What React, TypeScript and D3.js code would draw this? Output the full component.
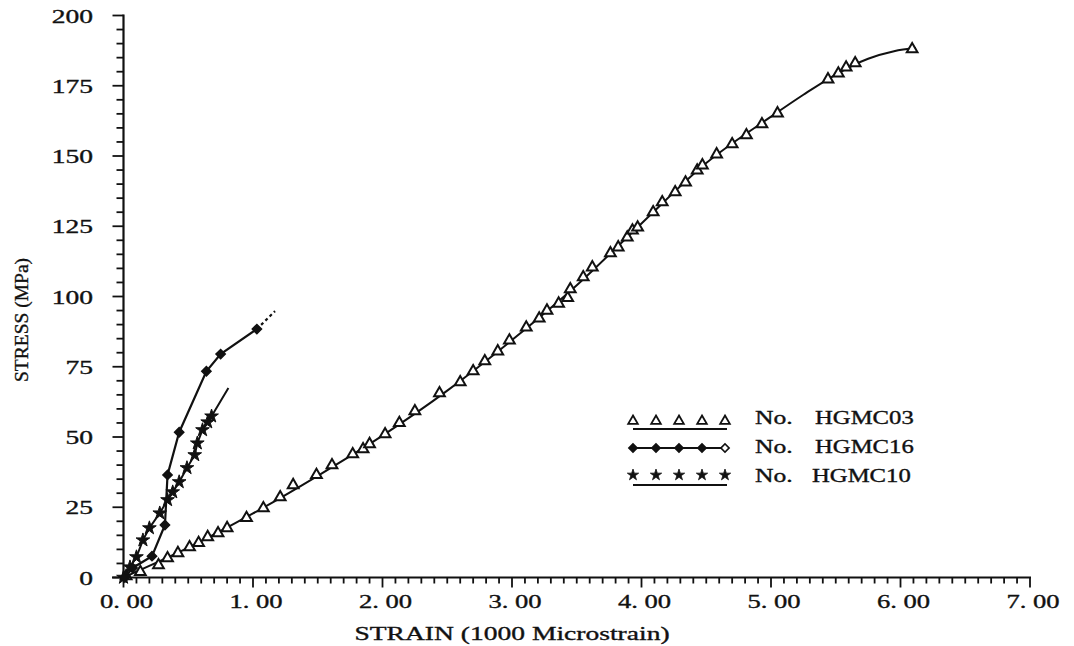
import React from "react";
import * as d3 from "d3";

// ---- data (strain in 1000 microstrain, stress in MPa) ----
const hgmc03: [number, number][] = [
  [0.02, 0.5], [0.13, 2.0], [0.27, 4.4], [0.34, 6.9], [0.42, 8.7], [0.51, 10.8],
  [0.58, 12.3], [0.65, 14.4], [0.73, 15.8], [0.8, 17.6], [0.95, 21.2], [1.08, 24.7],
  [1.21, 28.6], [1.31, 32.9], [1.49, 36.5], [1.61, 40.0], [1.77, 43.9], [1.85, 45.7],
  [1.9, 47.5], [2.02, 51.0], [2.13, 55.0], [2.25, 59.2], [2.44, 65.6], [2.6, 69.5],
  [2.7, 73.4], [2.79, 77.0], [2.89, 80.5], [2.98, 84.4], [3.11, 89.0], [3.21, 92.2],
  [3.27, 95.0], [3.36, 97.5], [3.43, 99.5], [3.45, 102.6], [3.55, 106.9], [3.62, 110.4],
  [3.76, 115.4], [3.82, 117.5], [3.89, 121.0], [3.93, 123.5], [3.97, 124.6], [4.09, 130.0],
  [4.16, 133.6], [4.26, 137.1], [4.34, 140.6], [4.43, 144.9], [4.47, 146.7], [4.58, 150.6],
  [4.7, 154.2], [4.81, 157.4], [4.93, 161.3], [5.05, 165.2], [5.44, 177.3], [5.52, 179.4],
  [5.58, 181.5], [5.65, 183.0], [6.09, 188.0],
];
// fitted trace of HGMC03 (line only)
const hgmc03Trace: [number, number][] = [
  [0.0, 0.0], [0.5, 10.6], [1.0, 22.8], [1.5, 36.2], [2.0, 50.5], [2.5, 66.5],
  [3.0, 84.5], [3.5, 104.0], [4.0, 126.0], [4.5, 147.5], [5.0, 164.0], [5.25, 171.8],
  [5.5, 179.0], [5.75, 184.6], [5.95, 187.3], [6.12, 188.4],
];

const hgmc16: [number, number][] = [
  [0.01, 0.0], [0.07, 3.4], [0.22, 7.6], [0.32, 18.7], [0.34, 36.5], [0.43, 51.7],
  [0.64, 73.4], [0.75, 79.5], [1.03, 88.4],
];
const hgmc16End: [number, number] = [1.17, 94.8];

const hgmc10: [number, number][] = [
  [0.0, 0.0], [0.05, 3.7], [0.1, 7.3], [0.15, 13.3], [0.2, 17.6], [0.28, 22.9],
  [0.34, 27.6], [0.38, 30.4], [0.43, 34.0], [0.49, 39.0], [0.55, 43.6], [0.57, 47.8],
  [0.61, 52.5], [0.65, 55.3], [0.68, 57.4],
];
const hgmc10End: [number, number] = [0.81, 67.4];

const xTicks = [0, 1, 2, 3, 4, 5, 6, 7];
const xTickLabels = ["0. 00", "1. 00", "2. 00", "3. 00", "4. 00", "5. 00", "6. 00", "7. 00"];
const yTicks = [0, 25, 50, 75, 100, 125, 150, 175, 200];
const yTickLabels = ["0", "25", "50", "75", "100", "125", "150", "175", "200"];
const legendLabels = ["HGMC03", "HGMC16", "HGMC10"];

const FONT = "'Liberation Serif', 'Times New Roman', serif";

function SText({ x, y, sx = 1.4, anchor = "start", size = 19, children }: any) {
  return (
    <text
      transform={`translate(${x},${y}) scale(${sx},1)`}
      textAnchor={anchor}
      fontFamily={FONT}
      fontSize={size}
      fill="#111"
      stroke="#111"
      strokeWidth={0.35}
    >
      {children}
    </text>
  );
}

export default function App() {
  const W = 1074, H = 646;
  const x = d3.scaleLinear().domain([0, 7]).range([123.5, 1030]);
  const y = d3.scaleLinear().domain([0, 200]).range([577.5, 15.5]);

  const smooth = d3.line<[number, number]>().x(d => x(d[0])).y(d => y(d[1])).curve(d3.curveMonotoneX);
  const straight = d3.line<[number, number]>().x(d => x(d[0])).y(d => y(d[1]));

  const tri = d3.symbol(d3.symbolTriangle, 50)()!;
  const dia = d3.symbol(d3.symbolSquare, 44)()!;
  const star = d3.symbol(d3.symbolStar, 58)()!;

  const xMinor = d3.range(0, 70.5, 1).map(v => v / 10);
  const yMinor = d3.range(0, 201, 5);

  const legendY = [421, 448, 475];
  const legendX = d3.range(5).map(i => 633 + i * 23);

  return (
    <svg width={W} height={H} style={{ position: "absolute", left: 0, top: 0, background: "#fff" }}>
      <rect width={W} height={H} fill="#fff" />
      {/* axes */}
      <line x1={x(0)} x2={x(0)} y1={y(200) - 1} y2={y(0)} stroke="#111" strokeWidth={2.2} />
      <line x1={112} x2={x(7) + 1} y1={y(0)} y2={y(0)} stroke="#111" strokeWidth={2.2} />
      {yMinor.map(v => (
        <line key={"ym" + v} x1={x(0) - (v % 25 === 0 ? 11 : 7)} x2={x(0)} y1={y(v)} y2={y(v)} stroke="#111" strokeWidth={1.8} />
      ))}
      {xMinor.map(v => (
        <line key={"xm" + v} x1={x(v)} x2={x(v)} y1={y(0)} y2={y(0) + (Math.abs(v - Math.round(v)) < 1e-6 ? 10 : 6)} stroke="#111" strokeWidth={1.8} />
      ))}
      {xTicks.map((v, i) => (
        <SText key={"xl" + v} x={x(v) + 3} y={608} anchor="middle" sx={1.4}>{xTickLabels[i]}</SText>
      ))}
      {yTicks.map((v, i) => (
        <SText key={"yl" + v} x={93} y={y(v) + 7} anchor="end" sx={1.45}>{yTickLabels[i]}</SText>
      ))}
      <SText x={512} y={640} anchor="middle" sx={1.45} size={19}>STRAIN (1000 Microstrain)</SText>
      <text transform="translate(28,320) rotate(-90)" textAnchor="middle" fontFamily={FONT} fontSize={19.5} fill="#111" stroke="#111" strokeWidth={0.35}>
        STRESS (MPa)
      </text>

      {/* HGMC03 */}
      <path d={smooth(hgmc03Trace) || ""} fill="none" stroke="#111" strokeWidth={2} />
      {hgmc03.map((d, i) => (
        <path key={"t" + i} d={tri} transform={`translate(${x(d[0])},${y(d[1])})`} fill="#fff" stroke="#111" strokeWidth={2} />
      ))}

      {/* HGMC16 */}
      <path d={straight(hgmc16) || ""} fill="none" stroke="#111" strokeWidth={2.2} />
      <path d={straight([hgmc16[hgmc16.length - 1], hgmc16End]) || ""} fill="none" stroke="#111" strokeWidth={2.2} strokeDasharray="3,3" />
      {hgmc16.map((d, i) => (
        <path key={"d" + i} d={dia} transform={`translate(${x(d[0])},${y(d[1])}) rotate(45)`} fill="#111" stroke="#111" strokeWidth={1.4} />
      ))}

      {/* HGMC10 */}
      <path d={straight([...hgmc10, hgmc10End]) || ""} fill="none" stroke="#111" strokeWidth={2} />
      {hgmc10.map((d, i) => (
        <path key={"s" + i} d={star} transform={`translate(${x(d[0])},${y(d[1])})`} fill="#111" stroke="#111" strokeWidth={1} />
      ))}

      {/* legend */}
      {legendX.map((lx, i) => (
        <path key={"lt" + i} d={d3.symbol(d3.symbolTriangle, 40)()!} transform={`translate(${lx},${legendY[0]})`} fill="#fff" stroke="#111" strokeWidth={1.8} />
      ))}
      <line x1={633} x2={727} y1={429} y2={429} stroke="#111" strokeWidth={1.8} />
      <line x1={633} x2={727} y1={legendY[1]} y2={legendY[1]} stroke="#111" strokeWidth={2} />
      {legendX.map((lx, i) => (
        <path key={"ld" + i} d={d3.symbol(d3.symbolSquare, 34)()!} transform={`translate(${lx},${legendY[1]}) rotate(45)`} fill={i === 4 ? "#fff" : "#111"} stroke="#111" strokeWidth={1.6} />
      ))}
      {legendX.map((lx, i) => (
        <path key={"ls" + i} d={d3.symbol(d3.symbolStar, 40)()!} transform={`translate(${lx},${legendY[2]})`} fill="#111" stroke="#111" strokeWidth={0.8} />
      ))}
      <line x1={633} x2={727} y1={485} y2={485} stroke="#111" strokeWidth={1.8} />
      {legendLabels.map((lab, i) => (
        <g key={lab}>
          <SText x={755} y={[424, 453, 482][i]} sx={1.35}>No.</SText>
          <SText x={i === 2 ? 812 : 815} y={[424, 453, 482][i]} sx={1.3}>{lab}</SText>
        </g>
      ))}
    </svg>
  );
}
